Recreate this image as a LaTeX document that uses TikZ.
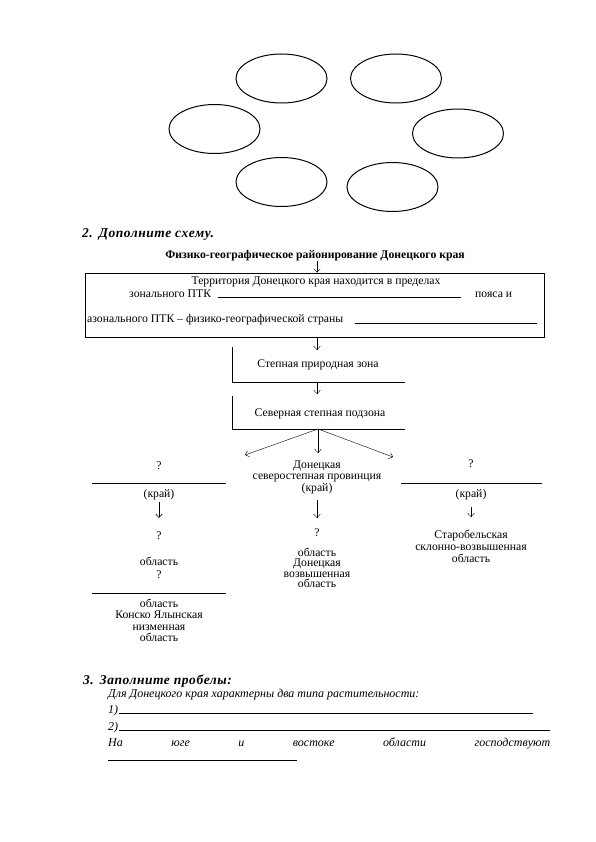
\documentclass[tikz,border=0pt]{standalone}
\usepackage{fontspec}
\setmainfont{Liberation Serif}
\usetikzlibrary{shapes.geometric,arrows.meta}
\begin{document}
\begin{tikzpicture}[x=1pt,y=-1pt,
 ell/.style={draw,line width=1pt,ellipse,minimum width=91pt,minimum height=49pt,inner sep=0},
 sm/.style={font=\fontsize{11.7}{13}\selectfont,inner sep=0,anchor=base},
 smw/.style={font=\fontsize{11.7}{13}\selectfont,inner sep=0,anchor=base west},
 ttl/.style={font=\fontsize{11.7}{13}\selectfont\bfseries,inner sep=0,anchor=base},
 hd/.style={font=\fontsize{13.5}{15}\selectfont\bfseries\itshape\addfontfeature{LetterSpace=4},inner sep=0,anchor=base west},
 itx/.style={font=\fontsize{12}{14}\selectfont\itshape,inner sep=0,anchor=base west},
 arr/.style={-{Straight Barb[length=3.5pt,width=6.5pt]},line width=0.4pt},
 ln/.style={line width=0.8pt}
]
\useasboundingbox (0,0) rectangle (595,842);
% ellipses
\node[ell] (e1) at (281.5,78.5) {};
\node[ell] (e2) at (396,78.5) {};
\node[ell] (e3) at (214.5,129) {};
\node[ell] (e4) at (458,133.5) {};
\node[ell] (e5) at (281.5,182) {};
\node[ell] (e6) at (392.5,187) {};
% heading 2
\node[hd] (h2) at (82,237.5) {2.\hspace{6pt}Дополните схему.};
\node[ttl] (title) at (315,258) {Физико-географическое районирование Донецкого края};
% main box
\node[draw,line width=0.8pt,minimum width=459pt,minimum height=64pt,inner sep=0] (box) at (314.5,305) {};
\coordinate (ax) at (317,0);
\draw[arr] (title.south -| ax) -- (box.north -| ax);
\node[sm] (b1) at (316,284) {Территория Донецкого края находится в пределах};
\node[smw] (b2) at (129,297) {зонального ПТК};
\coordinate (l2a) at (218,297); \coordinate (l2b) at (461,297);
\draw[ln] (l2a) -- (l2b);
\node[smw] (b2b) at (475,297) {пояса и};
\node[smw] (b3) at (87,322) {азонального ПТК – физико-географической страны};
\coordinate (l3a) at (355,323); \coordinate (l3b) at (537,323);
\draw[ln] (l3a) -- (l3b);
% zone
\coordinate (z1top) at (317,350);
\draw[arr] (box.south -| ax) -- (z1top);
\coordinate (z1a) at (232,347); \coordinate (z1b) at (232,382); \coordinate (z1c) at (405,382);
\draw[ln] (z1a) -- (z1b) -- (z1c);
\node[sm] (z1) at (318,367) {Степная природная зона};
\coordinate (z2top) at (317,394);
\draw[arr] (z1c -| ax) -- (z2top);
\coordinate (z2a) at (232,396); \coordinate (z2b) at (232,429); \coordinate (z2c) at (405,429);
\draw[ln] (z2a) -- (z2b) -- (z2c);
\node[sm] (z2) at (320,416) {Северная степная подзона};
% fork
\coordinate (fork) at (318,429);
\coordinate (fl) at (245,455);
\coordinate (fm) at (318,453);
\coordinate (fr) at (393,457);
\draw[arr] (fork) -- (fl);
\draw[arr] (fork) -- (fm);
\draw[arr] (fork) -- (fr);
% left column
\node[sm] (lq1) at (159,469) {?};
\coordinate (ll1a) at (92,483); \coordinate (ll1b) at (226,483);
\draw[ln] (ll1a) -- (ll1b);
\node[sm] (lk) at (159,497) {(край)};
\coordinate (la1) at (159,502); \coordinate (la2) at (159,518);
\draw[arr,line width=0.6pt] (la1) -- (la2);
\node[sm] (lq2) at (159,539) {?};
\node[sm] (lo1) at (159,565) {область};
\node[sm] (lq3) at (159,578) {?};
\coordinate (ll2a) at (92,593); \coordinate (ll2b) at (226,593);
\draw[ln] (ll2a) -- (ll2b);
\node[sm] (lo2) at (159,607) {область};
\node[sm] (lkj) at (159,618.5) {Конско Ялынская};
\node[sm] (lnz) at (159,630) {низменная};
\node[sm] (lo3) at (159,641.5) {область};
% middle column
\node[sm] (md1) at (317,468.5) {Донецкая};
\node[sm] (md2) at (317,479.5) {северостепная провинция};
\node[sm] (mk) at (317,491) {(край)};
\coordinate (ma1) at (317,500); \coordinate (ma2) at (317,518);
\draw[arr] (ma1) -- (ma2);
\node[sm] (mq) at (317,536) {?};
\node[sm] (mo1) at (317,556) {область};
\node[sm] (md3) at (317,566.5) {Донецкая};
\node[sm] (mv) at (317,577) {возвышенная};
\node[sm] (mo2) at (317,587.5) {область};
% right column
\node[sm] (rq) at (471,467) {?};
\coordinate (rl1a) at (401,483); \coordinate (rl1b) at (542,483);
\draw[ln] (rl1a) -- (rl1b);
\node[sm] (rk) at (471,497) {(край)};
\coordinate (ra1) at (471,507); \coordinate (ra2) at (471,517);
\draw[arr] (ra1) -- (ra2);
\node[sm] (rs1) at (471,538) {Старобельская};
\node[sm] (rs2) at (471,550.5) {склонно-возвышенная};
\node[sm] (rs3) at (471,562) {область};
% section 3
\node[hd] (h3) at (83,684.5) {3.\hspace{6pt}Заполните пробелы:};
\node[itx] (p1) at (108,697) {Для Донецкого края характерны два типа растительности:};
\node[itx] (n1) at (108,713) {1)};
\coordinate (n1a) at (119,713); \coordinate (n1b) at (533,713);
\draw[ln] (n1a) -- (n1b);
\node[itx] (n2) at (108,730) {2)};
\coordinate (n2a) at (119,730); \coordinate (n2b) at (550,730);
\draw[ln] (n2a) -- (n2b);
\node[itx,text width=442pt,align=left] (p3) at (108,746) {На\hfill юге\hfill и\hfill востоке\hfill области\hfill господствуют};
\coordinate (n3a) at (108,760); \coordinate (n3b) at (297,760);
\draw[ln] (n3a) -- (n3b);
\end{tikzpicture}
\end{document}
